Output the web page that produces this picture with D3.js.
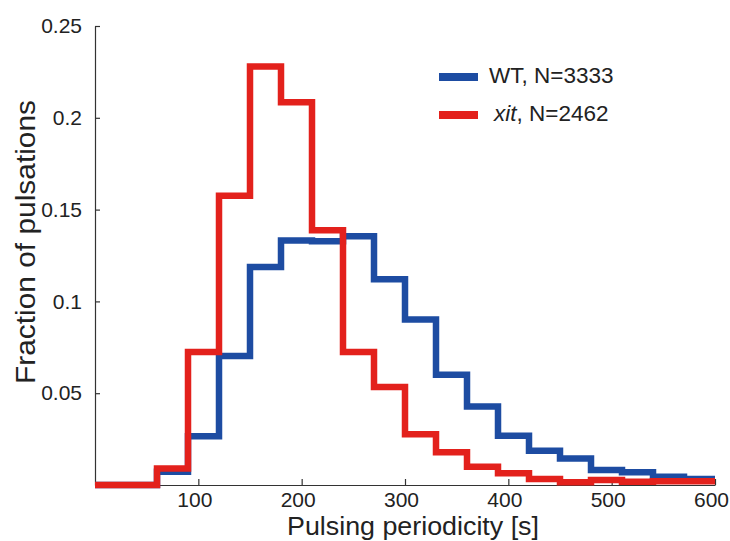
<!DOCTYPE html>
<html>
<head>
<meta charset="utf-8">
<script src="https://cdn.jsdelivr.net/npm/d3@7"></script>
<style>
	html, body { margin: 0; padding: 0; background: #fff; }
	svg { display: block; font-family: "Liberation Sans", Arial, sans-serif; }
	.axis path, .axis line { stroke: #333; stroke-width: 1.2; }
	.axis text { fill: #222; font-size: 21px; }
</style>
</head>
<body>
<svg id="chart" width="730" height="541"></svg>
<script>
// histogram bins, 30 s wide, left edges
const BIN_START = [0, 30, 60, 90, 120, 150, 180, 210, 240, 270, 300, 330, 360, 390, 420, 450, 480, 510, 540, 570];
const BIN_WIDTH = 30;
const WT_FRACTION = [0, 0, 0.0072, 0.0265, 0.0703, 0.1187, 0.1332, 0.1328, 0.1355, 0.112, 0.0902, 0.06, 0.0428, 0.0268, 0.0187, 0.0145, 0.0082, 0.0069, 0.0045, 0.0033];
const XIT_FRACTION = [0, 0, 0.009, 0.0725, 0.1576, 0.228, 0.2085, 0.1388, 0.0725, 0.0534, 0.0277, 0.0178, 0.010, 0.0064, 0.0033, 0.0015, 0.0027, 0.0018, 0.002, 0.002];
const X_TICKS = [100, 200, 300, 400, 500, 600];
const Y_TICKS = [0.05, 0.1, 0.15, 0.2, 0.25];

const svg = d3.select('#chart');

var x = d3.scaleLinear().domain([0, 600]).range([95, 715]);
var y = d3.scaleLinear().domain([0, 0.25]).range([485, 26]);

// axes, MATLAB style ticks pointing inward
svg.append('g')
	.attr('class', 'axis')
	.attr('transform', `translate(0, ${y(0)})`)
	.call(d3.axisBottom(x).tickValues(X_TICKS).tickSizeInner(-6).tickSizeOuter(0).tickPadding(7))
	.selectAll('text')
	.attr('dx', '-4');

svg.append('g')
	.attr('class', 'axis')
	.attr('transform', `translate(${x(0)}, 0)`)
	.call(d3.axisLeft(y).tickValues(Y_TICKS).tickSizeInner(-5).tickSizeOuter(0).tickPadding(13)
		.tickFormat((d) => String(d)));

// step lines, one point per bin edge
function stepPoints(vals) {
	const pts = BIN_START.map((s, i) => [s, vals[i]]);
	pts.push([BIN_START[BIN_START.length - 1] + BIN_WIDTH, vals[vals.length - 1]]);
	return pts;
}

const stair = d3.line()
	.x((p) => x(p[0]))
	.y((p) => y(p[1]))
	.curve(d3.curveStepAfter);

const series = [
	{name: 'WT', vals: WT_FRACTION, color: '#1d4ca2'},
	{name: 'xit', vals: XIT_FRACTION, color: '#e3211c'}
];

series.forEach((s) => {
	svg.append('path')
		.datum(stepPoints(s.vals))
		.attr('fill', 'none')
		.attr('stroke', s.color)
		.attr('stroke-width', 6.5)
		.attr('stroke-linejoin', 'miter')
		.attr('d', stair);
});

// legend
const legend = svg.append('g').attr('transform', 'translate(439, 77)');
legend.append('line').attr('x1', 0).attr('x2', 39).attr('y1', 0).attr('y2', 0)
	.attr('stroke', series[0].color).attr('stroke-width', 8);
legend.append('text').attr('x', 50).attr('y', 6).attr('font-size', 22.5).attr('fill', '#222')
	.text('WT, N=3333');
legend.append('line').attr('x1', 0).attr('x2', 39).attr('y1', 38).attr('y2', 38)
	.attr('stroke', series[1].color).attr('stroke-width', 8);
const t2 = legend.append('text').attr('x', 55).attr('y', 44).attr('font-size', 22.5).attr('fill', '#222');
t2.append('tspan').attr('font-style', 'italic').text('xit');
t2.append('tspan').text(', N=2462');

// axis titles
svg.append('text')
	.attr('x', 413).attr('y', 535)
	.attr('text-anchor', 'middle')
	.attr('font-size', 26).attr('fill', '#222')
	.attr('textLength', 252).attr('lengthAdjust', 'spacingAndGlyphs')
	.text('Pulsing periodicity [s]');

svg.append('text')
	.attr('transform', 'translate(35, 242) rotate(-90)')
	.attr('text-anchor', 'middle')
	.attr('font-size', 27).attr('fill', '#222')
	.attr('textLength', 284).attr('lengthAdjust', 'spacingAndGlyphs')
	.text('Fraction of pulsations');
</script>
</body>
</html>
